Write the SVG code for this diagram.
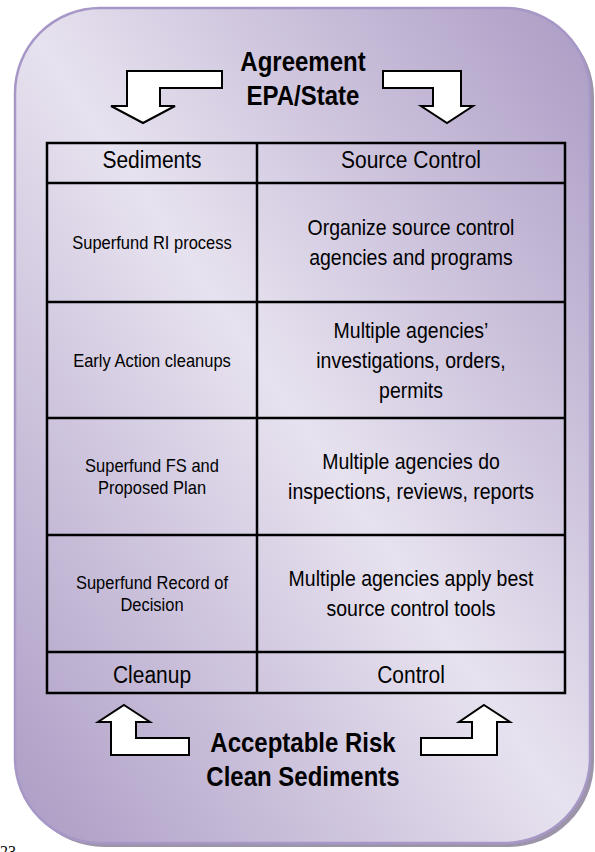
<svg xmlns="http://www.w3.org/2000/svg" width="595" height="852" viewBox="0 0 595 852">
  <defs>
    <linearGradient id="panelFill" x1="1" y1="0" x2="0" y2="1">
      <stop offset="0" stop-color="#ab9bc4"/>
      <stop offset="0.5" stop-color="#e7e2ef"/>
      <stop offset="1" stop-color="#ab9bc4"/>
    </linearGradient>
    <style>
      text { font-family: "Liberation Sans", Arial, sans-serif; fill: #000; text-anchor: middle; }
      .hdr { font-size: 21px; }
      .big { font-size: 19.5px; }
      .small { font-size: 16.5px; }
      .bold { font-size: 24px; font-weight: bold; }
      .grid { fill: none; stroke: #000; stroke-width: 2.5; }
      .arrow { fill: #fff; stroke: #000; stroke-width: 2; stroke-linejoin: miter; }
    </style>
  </defs>

  <rect width="595" height="852" fill="#fff"/>

  <!-- rounded panel with drop shadow -->
  <g id="panel">
    <rect x="19" y="12" width="575" height="835" rx="85" ry="85" fill="#9c94a8"/>
    <rect x="15" y="8" width="575" height="835" rx="85" ry="85" fill="url(#panelFill)" stroke="#a797c6" stroke-width="2.5"/>
  </g>

  <!-- titles -->
  <g id="title-top">
    <text class="bold" transform="translate(303,71) scale(1,1.12)">Agreement</text>
    <text class="bold" transform="translate(303,105) scale(1,1.12)">EPA/State</text>
  </g>
  <g id="title-bottom">
    <text class="bold" transform="translate(303,752) scale(1,1.12)">Acceptable Risk</text>
    <text class="bold" transform="translate(303,786) scale(1,1.12)">Clean Sediments</text>
  </g>

  <!-- block arrows -->
  <g id="connectors">
    <polygon class="arrow" points="222,71 127,71 127,106 111,106 143,123 175,106 160,106 160,88 222,88"/>
    <polygon class="arrow" points="383,71 461,71 461,106 473,106 447,123 421,106 433,106 433,88 383,88"/>
    <polygon class="arrow" points="124,705 150,722 136,722 136,738 189,738 189,755 111,755 111,722 98,722"/>
    <polygon class="arrow" points="484,705 510,722 497,722 497,755 421,755 421,738 472,738 472,722 459,722"/>
  </g>

  <!-- table grid -->
  <g id="table">
    <rect class="grid" x="47" y="143" width="518" height="550"/>
    <line class="grid" x1="257" y1="143" x2="257" y2="693"/>
    <line class="grid" x1="47" y1="183" x2="565" y2="183"/>
    <line class="grid" x1="47" y1="302" x2="565" y2="302"/>
    <line class="grid" x1="47" y1="418" x2="565" y2="418"/>
    <line class="grid" x1="47" y1="535" x2="565" y2="535"/>
    <line class="grid" x1="47" y1="652" x2="565" y2="652"/>
  </g>

  <!-- header row -->
  <g id="hdr-sediments"><text class="hdr" transform="translate(152,168) scale(1,1.12)">Sediments</text></g>
  <g id="hdr-source"><text class="hdr" transform="translate(411,168) scale(1,1.12)">Source Control</text></g>

  <!-- sediments column -->
  <g id="sed-ri"><text class="small" transform="translate(152,249) scale(1,1.12)">Superfund RI process</text></g>
  <g id="sed-early"><text class="small" transform="translate(152,367) scale(1,1.12)">Early Action cleanups</text></g>
  <g id="sed-fs"><text class="small" transform="translate(152,472) scale(1,1.12)"><tspan x="0" dy="0">Superfund FS and</tspan><tspan x="0" dy="19.6">Proposed Plan</tspan></text></g>
  <g id="sed-rod"><text class="small" transform="translate(152,589) scale(1,1.12)"><tspan x="0" dy="0">Superfund Record of</tspan><tspan x="0" dy="19.6">Decision</tspan></text></g>

  <!-- source control column -->
  <g id="src-organize"><text class="big" transform="translate(411,235) scale(1,1.12)"><tspan x="0" dy="0">Organize source control</tspan><tspan x="0" dy="26.8">agencies and programs</tspan></text></g>
  <g id="src-orders"><text class="big" transform="translate(411,338) scale(1,1.12)"><tspan x="0" dy="0">Multiple agencies’</tspan><tspan x="0" dy="26.8">investigations, orders,</tspan><tspan x="0" dy="26.8">permits</tspan></text></g>
  <g id="src-inspect"><text class="big" transform="translate(411,469) scale(1,1.12)"><tspan x="0" dy="0">Multiple agencies do</tspan><tspan x="0" dy="26.8">inspections, reviews, reports</tspan></text></g>
  <g id="src-tools"><text class="big" transform="translate(411,586) scale(1,1.12)"><tspan x="0" dy="0">Multiple agencies apply best</tspan><tspan x="0" dy="26.8">source control tools</tspan></text></g>

  <!-- footer row -->
  <g id="ftr-cleanup"><text class="hdr" transform="translate(152,683) scale(1,1.12)">Cleanup</text></g>
  <g id="ftr-control"><text class="hdr" transform="translate(411,683) scale(1,1.12)">Control</text></g>

  <!-- page number at the lower edge -->
  <text x="0" y="857" style="font-family:'Liberation Serif',serif;font-size:16px;text-anchor:start">23</text>
</svg>
